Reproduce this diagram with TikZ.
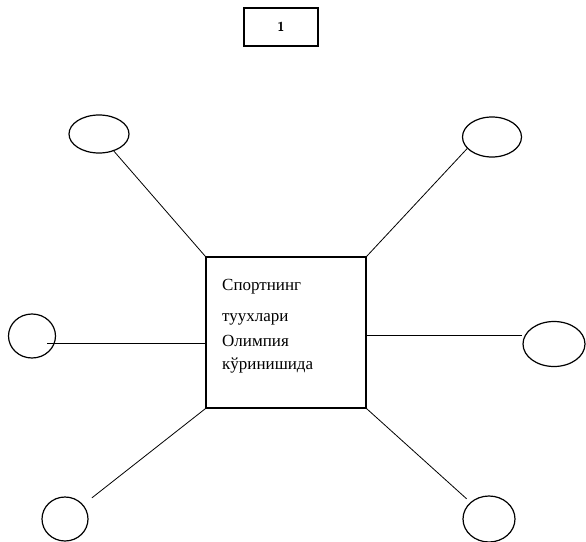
\documentclass[tikz,border=0pt]{standalone}
\usepackage{fontspec}
\setmainfont{Liberation Serif}
\usetikzlibrary{shapes.geometric}
\begin{document}
\begin{tikzpicture}[x=1pt,y=-1pt,
  oval/.style={draw,ellipse,line width=1.2pt,inner sep=0pt},
  link/.style={line width=0.8pt},
  centerbox/.style={draw,line width=1.5pt,inner sep=0pt,minimum width=160pt,minimum height=151pt},
  numbox/.style={draw,line width=1.5pt,inner sep=0pt,minimum width=74pt,minimum height=38pt,
    font=\sffamily\bfseries\fontsize{13}{13}\selectfont},
  label/.style={inner sep=0pt,anchor=base west,font=\fontsize{17}{17}\selectfont}]
\useasboundingbox (0,0) rectangle (586,541);
\node[numbox] (num) at (281,27) {1};
\node[centerbox] (sq) at (286,332.5) {};
\node[label] (t1) at (222,290) {Спортнинг};
\node[label] (t2) at (222,321) {туухлари};
\node[label] (t3) at (222,346) {Олимпия};
\node[label] (t4) at (222,369) {кўринишида};
\node[oval,minimum width=60pt,minimum height=38pt] (e1) at (99,134) {};
\node[oval,minimum width=59pt,minimum height=40pt] (e2) at (492,137) {};
\node[oval,minimum width=47pt,minimum height=44pt] (e3) at (32,336) {};
\node[oval,minimum width=62pt,minimum height=45pt] (e4) at (554,344) {};
\node[oval,minimum width=46pt,minimum height=44pt] (e5) at (65,519) {};
\node[oval,minimum width=52pt,minimum height=46pt] (e6) at (489,519) {};
\coordinate (l3) at (47,343);
\coordinate (r4) at (366,335);
\draw[link] (e1) -- (sq.north west);
\draw[link] (e2.205) -- (sq.north east);
\draw[link] (l3) -- (l3 -| sq.west);
\draw[link] (r4) -- (r4 -| e4.west);
\draw[link,shorten <=11pt] (e5) -- (sq.south west);
\draw[link,shorten <=5pt] (e6) -- (sq.south east);
\end{tikzpicture}
\end{document}
